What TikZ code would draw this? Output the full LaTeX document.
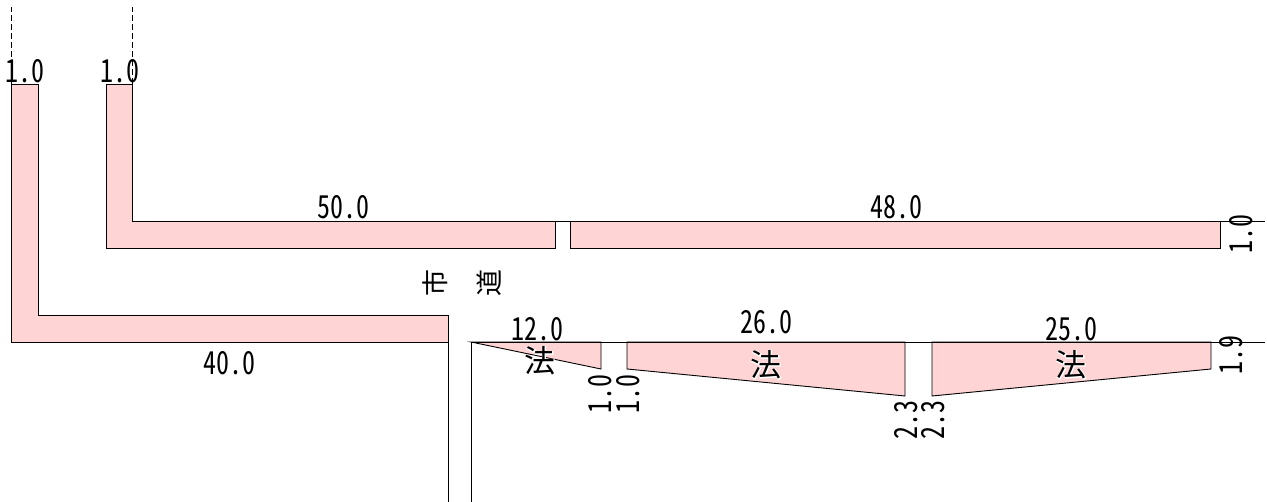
\documentclass[tikz,border=0pt]{standalone}
\usepackage{graphicx}
\usepackage{fontspec}
\newfontfamily\jpfont[RawFeature=+hwid]{Noto Sans CJK JP}
\newfontfamily\jphalo[FakeBold=5,Color=FFFFFF]{Noto Sans CJK JP}
\usepackage{tikz}
\tikzset{>=latex}
\definecolor{slabpink}{RGB}{255,212,212}
\newcommand{\tallnum}[1]{\scalebox{1}[1.22]{#1}}
\newcommand{\halochar}[1]{\makebox[0pt]{\jphalo #1}\makebox[0pt]{\jpfont #1}}
\tikzset{
  slab/.style={draw=black,fill=slabpink,line width=0.9pt},
  edgeline/.style={draw=black,line width=0.9pt},
  dim/.style={font=\jpfont\fontsize{26}{26}\selectfont,inner sep=0pt},
  dimv/.style={dim,rotate=90},
  kanji/.style={font=\jpfont\fontsize{31}{31}\selectfont,inner sep=0pt},
  roadname/.style={font=\jpfont\fontsize{27}{27}\selectfont,inner sep=0pt,rotate=90}
}

\begin{document}
\begin{tikzpicture}[x=1pt,y=-1pt]
    \useasboundingbox (0,0) rectangle (1267,502);
    \draw [slab] (11,84) -- (38,84) -- (38,315) -- (448,315) -- (448,342) -- (11,342) -- cycle;
    \draw [slab] (106,84) -- (132,84) -- (132,221) -- (555,221) -- (555,248) -- (106,248) -- cycle;
    \draw [slab] (570,221) -- (1220,221) -- (1220,248) -- (570,248) -- cycle;
    \draw [slab] (471,342) -- (601,342) -- (601,369) -- cycle;
    \draw [slab] (627,342) -- (905,342) -- (905,396) -- (627,369) -- cycle;
    \draw [slab] (932,342) -- (1211,342) -- (1211,369) -- (932,396) -- cycle;

    \draw [edgeline] (132,221) -- (1265,221);
    \draw [edgeline] (448,315) -- (448,502);
    \draw [edgeline] (471,502) -- (471,342) -- (1265,342);
    \draw [edgeline,dash pattern=on 6pt off 3pt] (11,84) -- (11,7);
    \draw [edgeline,dash pattern=on 6pt off 3pt] (132,84) -- (132,7);

    \node [dim] (lblA) at (25,71) {\tallnum{1.0}};
    \node [dim] (lblB) at (120,71) {\tallnum{1.0}};
    \node [dim] (lblC) at (343,207) {\tallnum{50.0}};
    \node [dim] (lblD) at (896,207) {\tallnum{48.0}};
    \node [dim] (lblE) at (229,363) {\tallnum{40.0}};
    \node [dim] (lblF) at (537,329) {\tallnum{12.0}};
    \node [dim] (lblG) at (766,322) {\tallnum{26.0}};
    \node [dim] (lblH) at (1071,329) {\tallnum{25.0}};

    \node [dimv] (lblI) at (1241,234) {\tallnum{1.0}};
    \node [dimv] (lblJ) at (600,394) {\tallnum{1.0}};
    \node [dimv] (lblK) at (628,394) {\tallnum{1.0}};
    \node [dimv] (lblL) at (906,420) {\tallnum{2.3}};
    \node [dimv] (lblM) at (933,420) {\tallnum{2.3}};
    \node [dimv] (lblN) at (1231,355) {\tallnum{1.9}};

    \node [roadname] (roadA) at (435,283) {市};
    \node [roadname] (roadB) at (489,283) {道};
    \node [kanji] (slopeA) at (540,361) {\halochar{法}};
    \node [kanji] (slopeB) at (766,365) {\halochar{法}};
    \node [kanji] (slopeC) at (1071,365) {\halochar{法}};
\end{tikzpicture}
\end{document}
